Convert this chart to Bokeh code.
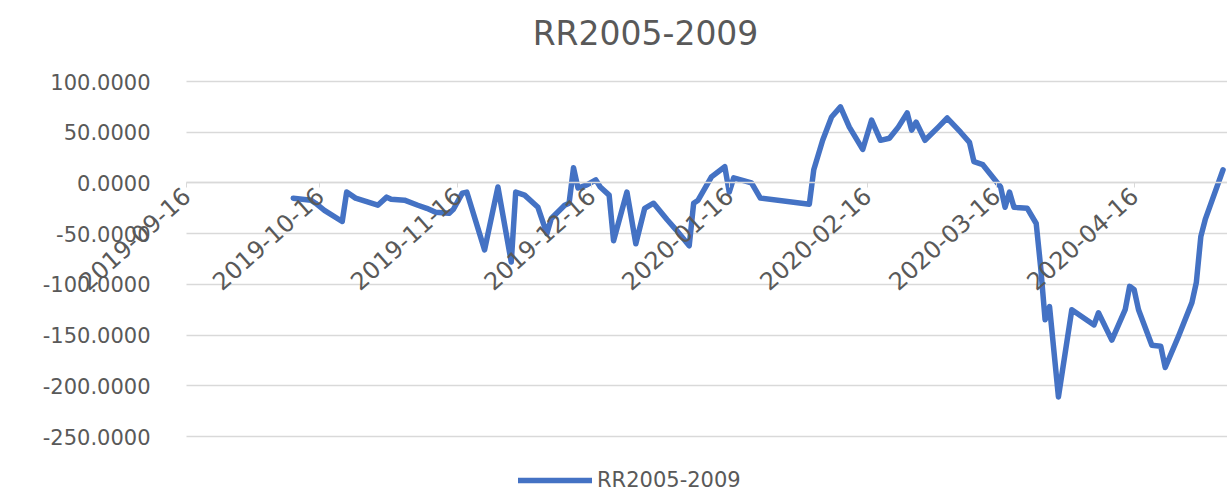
import pandas as pd
from bokeh.plotting import figure
from bokeh.core.properties import value
from bokeh.models import (FixedTicker, DatetimeTickFormatter, Range1d, Legend,
                          LegendItem, ColumnDataSource, Label, LabelSet)
from bokeh.embed import file_html
from bokeh.resources import INLINE

title_text = "RR2005-2009"
series_name = "RR2005-2009"

dates = [
    "2019-10-10", "2019-10-14", "2019-10-15", "2019-10-17", "2019-10-21", "2019-10-22",
    "2019-10-24", "2019-10-29", "2019-10-31", "2019-11-01", "2019-11-04", "2019-11-07",
    "2019-11-09", "2019-11-11", "2019-11-14", "2019-11-15", "2019-11-17", "2019-11-18",
    "2019-11-22", "2019-11-25", "2019-11-28", "2019-11-29", "2019-12-01", "2019-12-04",
    "2019-12-06", "2019-12-07", "2019-12-10", "2019-12-11", "2019-12-12", "2019-12-13",
    "2019-12-15", "2019-12-17", "2019-12-18", "2019-12-20", "2019-12-21", "2019-12-24",
    "2019-12-26", "2019-12-28", "2019-12-30", "2020-01-02", "2020-01-04", "2020-01-07",
    "2020-01-08", "2020-01-09", "2020-01-12", "2020-01-15", "2020-01-16", "2020-01-17",
    "2020-01-21", "2020-01-23", "2020-02-03", "2020-02-04", "2020-02-06", "2020-02-08",
    "2020-02-10", "2020-02-12", "2020-02-15", "2020-02-17", "2020-02-19", "2020-02-21",
    "2020-02-23", "2020-02-25", "2020-02-26", "2020-02-27", "2020-02-29", "2020-03-03",
    "2020-03-05", "2020-03-08", "2020-03-10", "2020-03-11", "2020-03-13", "2020-03-17",
    "2020-03-18", "2020-03-19", "2020-03-20", "2020-03-23", "2020-03-25", "2020-03-26",
    "2020-03-27", "2020-03-28", "2020-03-30", "2020-04-02", "2020-04-07", "2020-04-08",
    "2020-04-11", "2020-04-14", "2020-04-15", "2020-04-16", "2020-04-17", "2020-04-20",
    "2020-04-22", "2020-04-23", "2020-04-26", "2020-04-29", "2020-04-30", "2020-05-01",
    "2020-05-02", "2020-05-06",
]
values = [
    -15, -17, -20, -27, -38, -9,
    -15, -22, -14, -16, -17, -22,
    -25, -29, -30, -26, -10, -9,
    -66, -4, -78, -9, -12, -24,
    -50, -35, -22, -20, 15, -5,
    -2, 3, -4, -12, -57, -9,
    -60, -25, -20, -36, -46, -62,
    -20, -17, 6, 16, -9, 5,
    0, -15, -21, 13, 42, 65,
    75, 55, 33, 62, 42, 44,
    55, 69, 52, 60, 42, 55,
    64, 50, 40, 21, 18, -4,
    -24, -9, -24, -25, -40, -83,
    -135, -122, -211, -125, -140, -128,
    -155, -125, -102, -105, -125, -160,
    -161, -182, -151, -118, -98, -53,
    -36, 13,
]

x_tick_labels = ["2019-09-16", "2019-10-16", "2019-11-16", "2019-12-16",
                 "2020-01-16", "2020-02-16", "2020-03-16", "2020-04-16"]
y_ticks = [-250, -200, -150, -100, -50, 0, 50, 100]
y_tick_labels = [f"{v:.4f}" for v in y_ticks]
x_start, x_end = "2019-09-16", "2020-05-07"

W, H = 1227, 494
# plot-area geometry (pixels) of the original chart
PLOT_L, PLOT_R = 186, 1227
PLOT_T, PLOT_B = 81, 436          # y of the top / bottom gridline

t0 = pd.Timestamp(x_start)
t1 = pd.Timestamp(x_end)
days = (t1 - t0) / pd.Timedelta(days=1)
px_per_day = (PLOT_R - PLOT_L) / days
xr0 = t0 - pd.Timedelta(days=PLOT_L / px_per_day)
xr1 = t1 + pd.Timedelta(days=(W - PLOT_R) / px_per_day)

ymax, ymin = max(y_ticks), min(y_ticks)
px_per_unit = (PLOT_B - PLOT_T) / (ymax - ymin)
yr1 = ymax + PLOT_T / px_per_unit
yr0 = ymin - (H - PLOT_B) / px_per_unit

src = ColumnDataSource(dict(date=pd.to_datetime(dates), value=values))
ylab_src = ColumnDataSource(dict(x=[t0] * len(y_ticks), y=y_ticks,
                                 text=y_tick_labels))

FONT = "DejaVu Sans"
GRAY = "#595959"
GRID = "#D9D9D9"

p = figure(width=W, height=H, x_axis_type="datetime",
           output_backend="svg", toolbar_location=None,
           x_range=Range1d(xr0, xr1), y_range=Range1d(yr0, yr1),
           min_border=0)
p.outline_line_color = None
p.background_fill_color = "white"
p.border_fill_color = "white"

r = p.line("date", "value", source=src, line_color="#4472C4", line_width=5.5,
           line_join="round", line_cap="round")

ms0 = t0.value / 1e6
ms1 = t1.value / 1e6

# y axis: ticks / grid from the axis, labels right-aligned left of the plot area
p.yaxis.fixed_location = ms0
p.yaxis.ticker = FixedTicker(ticks=y_ticks)
p.yaxis.axis_line_color = None
p.yaxis.major_tick_line_color = None
p.yaxis.minor_tick_line_color = None
p.yaxis.major_label_text_alpha = 0

ylabels = LabelSet(x="x", y="y", text="text", source=ylab_src,
                   text_align="right", text_baseline="middle", x_offset=-36,
                   text_font=value(FONT), text_font_size="21px", text_color=GRAY)
p.add_layout(ylabels)

p.ygrid.ticker = FixedTicker(ticks=y_ticks)
p.ygrid.grid_line_color = GRID
p.ygrid.grid_line_width = 1.5
p.ygrid.cross_bounds = (ms0, ms1 + 10 * 86400000)
p.xgrid.grid_line_color = None

# x axis crossing at zero
xt = [pd.Timestamp(d).value / 1e6 for d in x_tick_labels]
p.xaxis.fixed_location = 0
p.xaxis.bounds = (ms0, ms1 + 10 * 86400000)
p.xaxis.ticker = FixedTicker(ticks=xt)
p.xaxis.formatter = DatetimeTickFormatter(days="%Y-%m-%d", months="%Y-%m-%d",
                                          years="%Y-%m-%d", hours="%Y-%m-%d")
p.xaxis.axis_line_color = GRID
p.xaxis.axis_line_width = 1.5
p.xaxis.major_tick_line_color = GRID
p.xaxis.major_tick_out = 5
p.xaxis.major_tick_in = 0
p.xaxis.minor_tick_line_color = None
p.xaxis.major_label_orientation = 0.73
p.xaxis.major_label_text_font = FONT
p.xaxis.major_label_text_font_size = "24px"
p.xaxis.major_label_text_color = GRAY
p.xaxis.major_label_standoff = 4

title = Label(x=645, y=H - 33, x_units="screen", y_units="screen",
              text=title_text, text_align="center", text_baseline="middle",
              text_font=FONT, text_font_size="33px", text_color=GRAY)
p.add_layout(title)

legend = Legend(items=[LegendItem(label=series_name, renderers=[r])],
                location=(518, 2), orientation="horizontal",
                glyph_width=74, glyph_height=20,
                label_text_font=FONT, label_text_font_size="21px",
                label_text_color=GRAY, border_line_color=None,
                background_fill_alpha=0, padding=10, margin=0)
p.add_layout(legend)

open("out.html", "w").write(file_html(p, INLINE))
